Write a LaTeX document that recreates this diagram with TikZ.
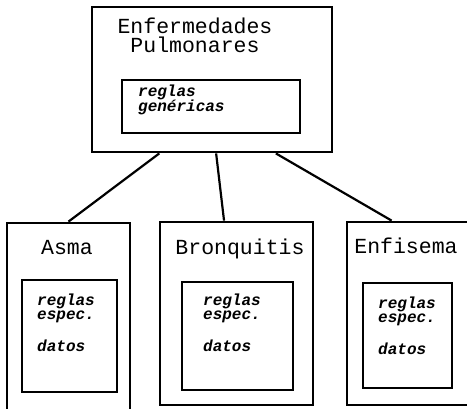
\documentclass[tikz,border=0pt]{standalone}
\usepackage{fontspec}
\newfontfamily\courfont{Liberation Mono}
\usetikzlibrary{calc}

\tikzset{
	box/.style={draw, line width=2.8pt, inner sep=0pt},
	title/.style={font=\courfont\fontsize{21.5}{19}\selectfont, inner sep=0pt, align=center, anchor=base},
	body/.style={font=\courfont\bfseries\itshape\fontsize{16}{14}\selectfont, inner sep=0pt, align=left, anchor=base west},
	link/.style={line width=2.2pt}
}

\begin{document}
\begin{tikzpicture}[x=1pt, y=-1pt]
		\useasboundingbox (0,0) rectangle (467,409);
		\clip (0,0) rectangle (467,409);

		% caja general
		\node [box, minimum width=240pt, minimum height=145pt] (pulm) at (212,79.5) {};
		\node [box, minimum width=178pt, minimum height=53pt] (pulmin) at (211,106.5) {};
		\node [title] (pulmtxt) at (195,53) {Enfermedades\\Pulmonares};
		\node [body] (pulmreg) at (138,112) {reglas\\gen\'ericas};

		% cajas especificas
		\node [box, minimum width=123pt, minimum height=189pt] (asma) at (68.5,317.5) {};
		\node [box, minimum width=95pt, minimum height=112pt] (asmain) at (69.5,336) {};
		\node [title] (asmatxt) at (67,255) {Asma};
		\node [body] (asmareg) at (37,352) {reglas\\espec.\\[17pt]datos};

		\node [box, minimum width=153pt, minimum height=183pt] (bronq) at (236.5,313.5) {};
		\node [box, minimum width=111pt, minimum height=108pt] (bronqin) at (237.5,336) {};
		\node [title] (bronqtxt) at (240,255) {Bronquitis};
		\node [body] (bronqreg) at (203,352) {reglas\\espec.\\[17pt]datos};

		\node [box, minimum width=125pt, minimum height=183pt] (enfis) at (409.5,313.5) {};
		\node [box, minimum width=89pt, minimum height=105pt] (enfisin) at (407.5,335.5) {};
		\node [title] (enfistxt) at (406,254) {Enfisema};
		\node [body] (enfisreg) at (378,355) {reglas\\espec.\\[17pt]datos};

		\draw [link] ($(pulm.south west)!0.283!(pulm.south east)$) -- (asma.north);
		\draw [link] ($(pulm.south west)!0.517!(pulm.south east)$) -- ($(bronq.north west)!0.42!(bronq.north east)$);
		\draw [link] ($(pulm.south west)!0.763!(pulm.south east)$) -- ($(enfis.north west)!0.36!(enfis.north east)$);
	\end{tikzpicture}
\end{document}
